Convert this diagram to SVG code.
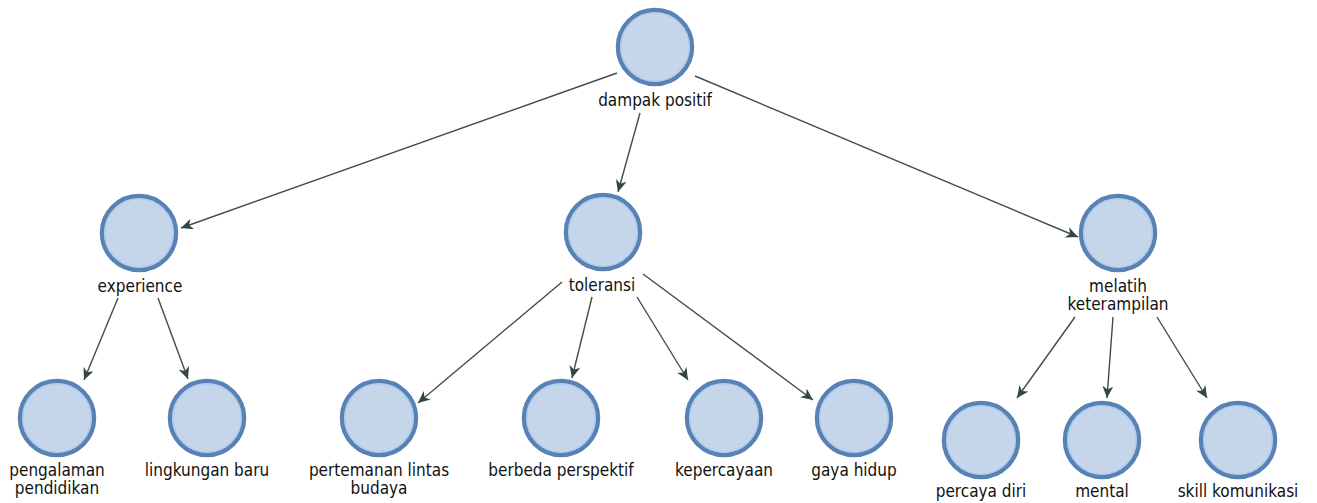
<svg xmlns="http://www.w3.org/2000/svg" width="1317" height="503" viewBox="0 0 1317 503">
  <style>
    .node-ring { fill: #c5d5ea; stroke: #5782b3; stroke-width: 4.5; }
    .node-inner { fill: none; stroke: #aecbef; stroke-width: 1.5; }
    .label { font-family: "DejaVu Sans Condensed", "DejaVu Sans", "Liberation Sans", sans-serif; font-stretch: condensed; font-size: 17px; fill: #111111; text-anchor: middle; }
    .edge { stroke: #3d4f4a; stroke-width: 1.4; fill: none; marker-end: url(#arrow); }
  </style>
  <defs>
    <marker id="arrow" markerUnits="userSpaceOnUse" markerWidth="13" markerHeight="11" refX="12" refY="5.5" orient="auto">
      <path d="M0,0 L12,5.5 L0,11 L3.5,5.5 Z" fill="#34463f"/>
    </marker>
    <g id="bubble">
      <circle class="node-ring" r="37"/>
      <circle class="node-inner" r="34.3"/>
    </g>
  </defs>
  <rect width="1317" height="503" fill="#ffffff"/>

  <!-- connectors -->
  <g id="connectors">
    <line class="edge" x1="617" y1="73" x2="181" y2="228"/>
    <line class="edge" x1="640" y1="113" x2="618" y2="192"/>
    <line class="edge" x1="695" y1="76" x2="1078" y2="237"/>
    <line class="edge" x1="118" y1="298" x2="84" y2="380"/>
    <line class="edge" x1="158" y1="298" x2="188" y2="379"/>
    <line class="edge" x1="562" y1="282" x2="418" y2="403"/>
    <line class="edge" x1="592" y1="297" x2="572" y2="378"/>
    <line class="edge" x1="637" y1="297" x2="688" y2="380"/>
    <line class="edge" x1="643" y1="274" x2="813" y2="400"/>
    <line class="edge" x1="1075" y1="317" x2="1017" y2="398"/>
    <line class="edge" x1="1113" y1="317" x2="1107" y2="398"/>
    <line class="edge" x1="1157" y1="317" x2="1207" y2="398"/>
  </g>

  <!-- nodes -->
  <g id="dampak-positif">
    <use href="#bubble" x="655" y="47"/>
    <text class="label" x="655" y="106">dampak positif</text>
  </g>
  <g id="experience">
    <use href="#bubble" x="139" y="233"/>
    <text class="label" x="140" y="292">experience</text>
  </g>
  <g id="toleransi">
    <use href="#bubble" x="603" y="232"/>
    <text class="label" x="602" y="291">toleransi</text>
  </g>
  <g id="melatih-keterampilan">
    <use href="#bubble" x="1118" y="233"/>
    <text class="label" x="1118" y="292">melatih</text>
    <text class="label" x="1118" y="310">keterampilan</text>
  </g>
  <g id="pengalaman-pendidikan">
    <use href="#bubble" x="57" y="418"/>
    <text class="label" x="57" y="476">pengalaman</text>
    <text class="label" x="57" y="494">pendidikan</text>
  </g>
  <g id="lingkungan-baru">
    <use href="#bubble" x="207" y="418"/>
    <text class="label" x="207" y="476">lingkungan baru</text>
  </g>
  <g id="pertemanan-lintas-budaya">
    <use href="#bubble" x="379" y="418"/>
    <text class="label" x="379" y="476">pertemanan lintas</text>
    <text class="label" x="379" y="494">budaya</text>
  </g>
  <g id="berbeda-perspektif">
    <use href="#bubble" x="561" y="418"/>
    <text class="label" x="561" y="476">berbeda perspektif</text>
  </g>
  <g id="kepercayaan">
    <use href="#bubble" x="724" y="418"/>
    <text class="label" x="724" y="476">kepercayaan</text>
  </g>
  <g id="gaya-hidup">
    <use href="#bubble" x="854" y="418"/>
    <text class="label" x="854" y="476">gaya hidup</text>
  </g>
  <g id="percaya-diri">
    <use href="#bubble" x="981" y="440"/>
    <text class="label" x="981" y="497">percaya diri</text>
  </g>
  <g id="mental">
    <use href="#bubble" x="1102" y="440"/>
    <text class="label" x="1102" y="497">mental</text>
  </g>
  <g id="skill-komunikasi">
    <use href="#bubble" x="1238" y="440"/>
    <text class="label" x="1238" y="497">skill komunikasi</text>
  </g>
</svg>
